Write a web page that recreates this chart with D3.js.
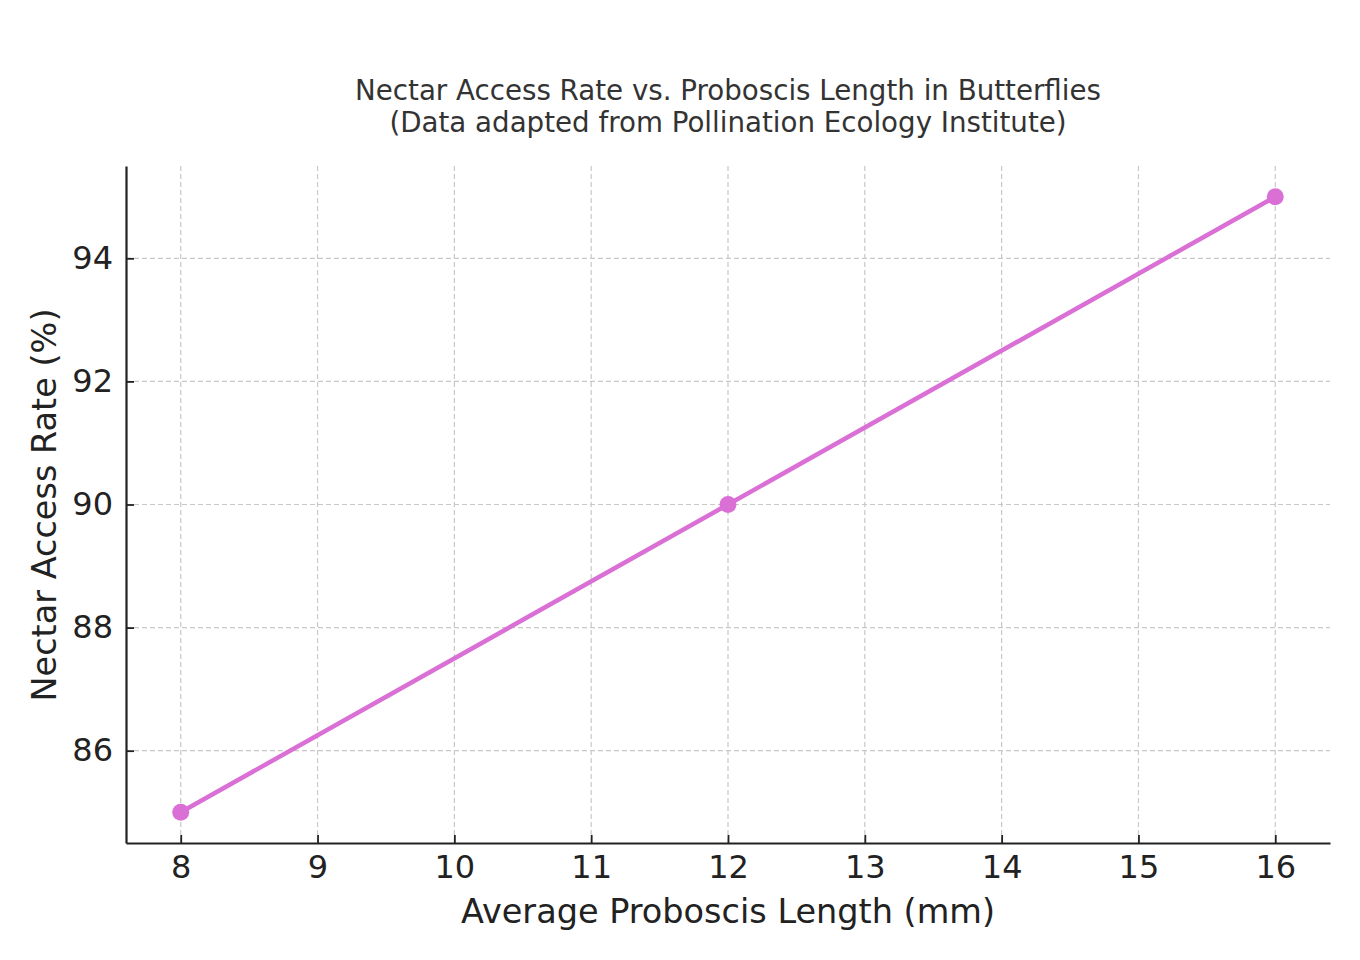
<!DOCTYPE html>
<html>
<head>
<meta charset="utf-8">
<script src="https://cdn.jsdelivr.net/npm/d3@7"></script>
<style>
  body { margin: 0; background: #fff; }
  svg { font-family: "DejaVu Sans", sans-serif; }
</style>
</head>
<body>
<svg width="1360" height="960"></svg>
<script>
// data
const proboscis = [8, 12, 16];
const accessRate = [85, 90, 95];
const xTicks = [8, 9, 10, 11, 12, 13, 14, 15, 16];
const yTicks = [86, 88, 90, 92, 94];
const titleLines = ['Nectar Access Rate vs. Proboscis Length in Butterflies',
                    '(Data adapted from Pollination Ecology Institute)'];

const svg = d3.select('svg');
const plotLeft = 126, plotRight = 1330, plotTop = 166, plotBottom = 843;

const xScale = d3.scaleLinear().domain([7.6, 16.4]).range([plotLeft, plotRight]);
const yScale = d3.scaleLinear().domain([84.5, 95.5]).range([plotBottom, plotTop]);

// grid
svg.append('g')
  .selectAll('line')
  .data(xTicks)
  .enter()
  .append('line')
  .attr('x1', d => xScale(d)).attr('x2', d => xScale(d))
  .attr('y1', plotTop).attr('y2', plotBottom)
  .attr('stroke', '#c8c8c8').attr('stroke-width', 1.2)
  .attr('stroke-dasharray', '5,3');

svg.append('g')
  .selectAll('line')
  .data(yTicks)
  .enter()
  .append('line')
  .attr('x1', plotLeft).attr('x2', plotRight)
  .attr('y1', d => yScale(d)).attr('y2', d => yScale(d))
  .attr('stroke', '#c8c8c8').attr('stroke-width', 1.2)
  .attr('stroke-dasharray', '5,3');

// axes
const xAxis = d3.axisBottom(xScale).tickValues(xTicks).tickSizeInner(-8).tickSizeOuter(0).tickPadding(12);
const yAxis = d3.axisLeft(yScale).tickValues(yTicks).tickSizeInner(-8).tickSizeOuter(0).tickPadding(13);

const gx = svg.append('g')
  .attr('transform', 'translate(0,' + plotBottom + ')')
  .call(xAxis);
const gy = svg.append('g')
  .attr('transform', 'translate(' + plotLeft + ',0)')
  .call(yAxis);

[gx, gy].forEach(g => {
  g.select('.domain').attr('stroke', '#222').attr('stroke-width', 2.2);
  g.selectAll('.tick line').attr('stroke', '#222').attr('stroke-width', 1.8);
  g.selectAll('.tick text')
    .attr('fill', '#222')
    .style('font-size', '32px')
    .style('font-family', '"DejaVu Sans", sans-serif');
});

// line and points
const line = d3.line()
  .x((d, i) => xScale(proboscis[i]))
  .y(d => yScale(d));

svg.append('path')
  .datum(accessRate)
  .attr('d', line)
  .attr('fill', 'none')
  .attr('stroke', '#da70d6')
  .attr('stroke-width', 4.5);

svg.selectAll('.pt')
  .data(accessRate)
  .enter()
  .append('circle')
  .attr('class', 'pt')
  .attr('cx', (d, i) => xScale(proboscis[i]))
  .attr('cy', d => yScale(d))
  .attr('r', 8.5)
  .attr('fill', '#da70d6');

// titles
svg.append('text')
  .attr('x', 728).attr('y', 100)
  .attr('text-anchor', 'middle')
  .attr('fill', '#333')
  .style('font-size', '27.7px')
  .text(titleLines[0]);
svg.append('text')
  .attr('x', 728).attr('y', 132)
  .attr('text-anchor', 'middle')
  .attr('fill', '#333')
  .style('font-size', '27.7px')
  .text(titleLines[1]);

svg.append('text')
  .attr('x', 728).attr('y', 923)
  .attr('text-anchor', 'middle')
  .attr('fill', '#222')
  .style('font-size', '33.5px')
  .text('Average Proboscis Length (mm)');

svg.append('text')
  .attr('transform', 'translate(56,505) rotate(-90)')
  .attr('text-anchor', 'middle')
  .attr('fill', '#222')
  .style('font-size', '33.5px')
  .text('Nectar Access Rate (%)');
</script>
</body>
</html>
